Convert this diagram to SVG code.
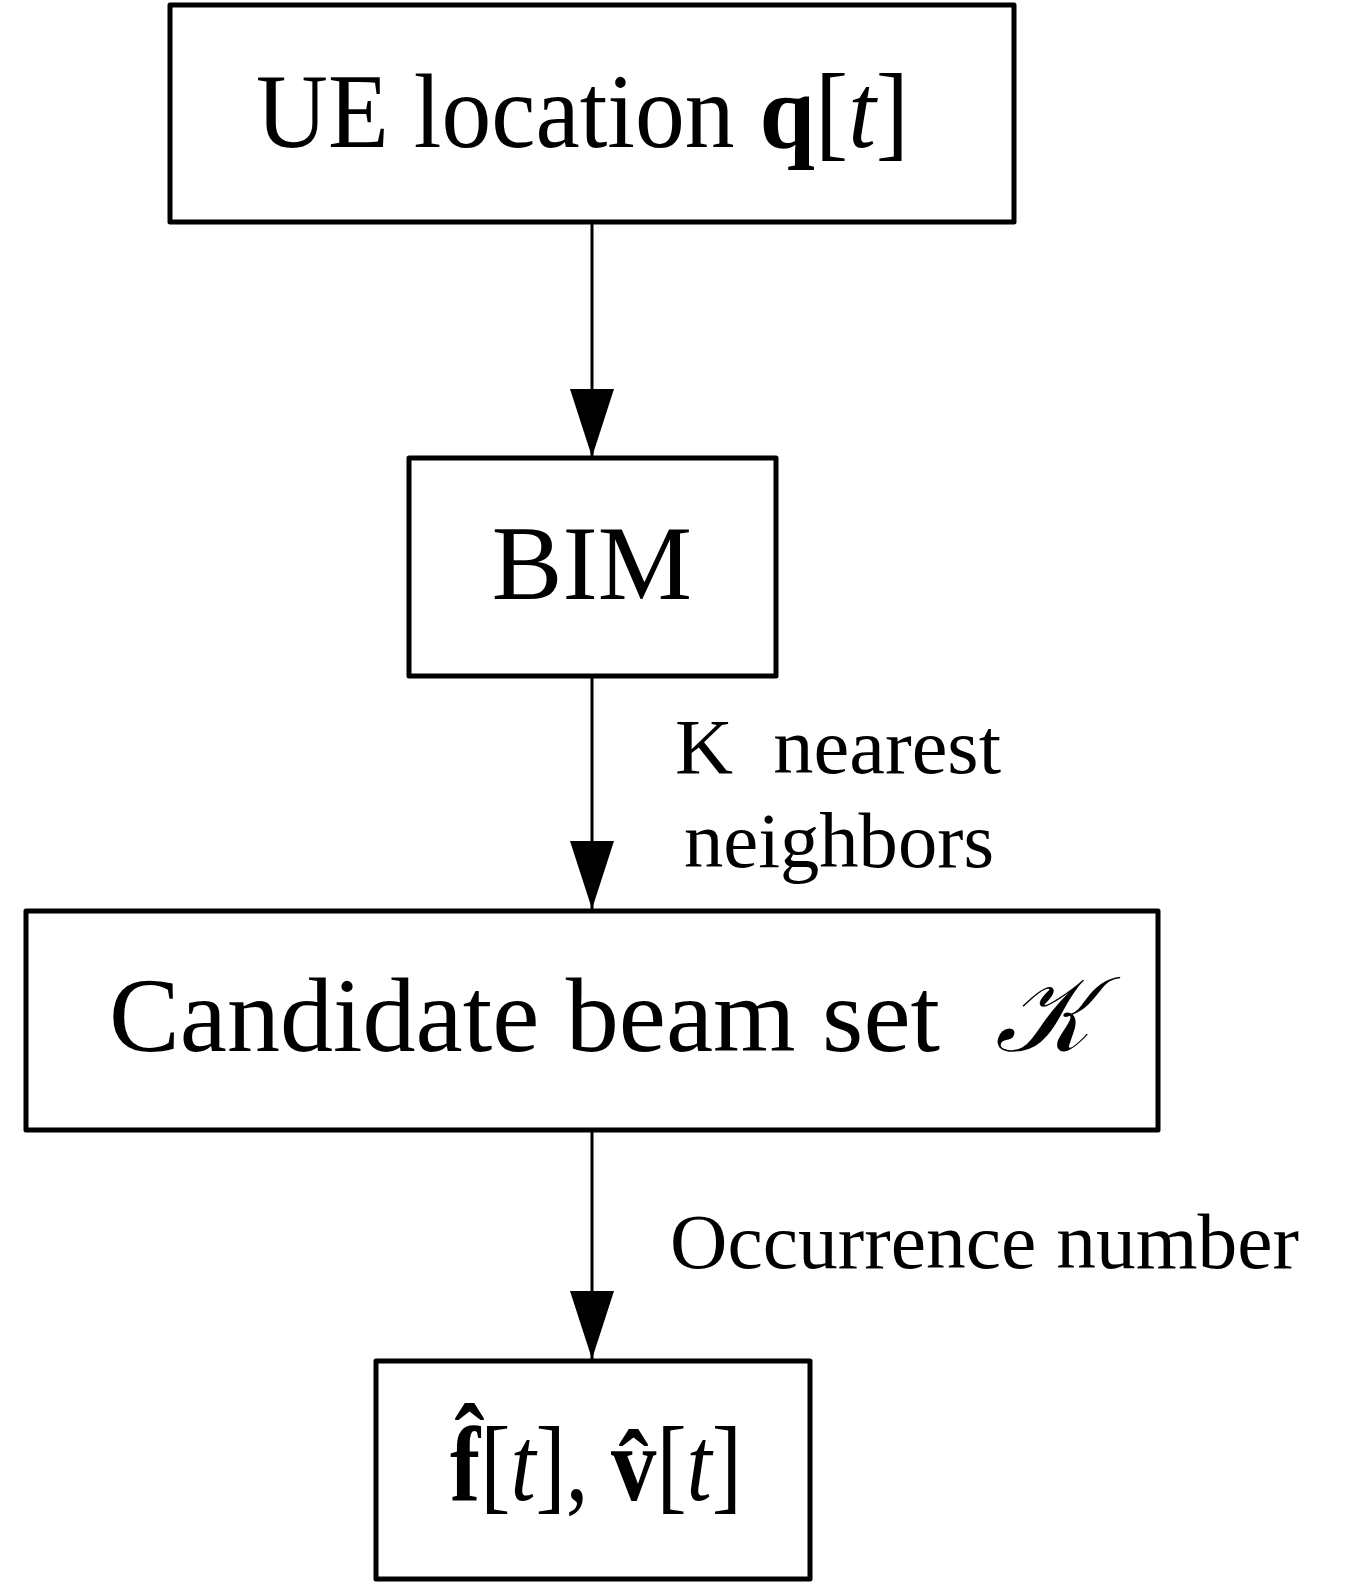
<svg xmlns="http://www.w3.org/2000/svg" width="1360" height="1584" viewBox="0 0 1360 1584">
<style>
.box{fill:#fff;stroke:#000;stroke-width:5;stroke-linejoin:round}
.conn{stroke:#000;stroke-width:3;fill:none}
.t{font-family:"Liberation Serif","Times New Roman",serif;fill:#000}
.big{font-size:106px}
.lab{font-size:79px}
</style>
<defs>
<marker id="arr" markerUnits="userSpaceOnUse" markerWidth="70" markerHeight="44" refX="68" refY="22" orient="auto" viewBox="0 0 70 44">
<path d="M0,0 L68,22 L0,44 Z" fill="#000"/>
</marker>
</defs>
<g id="connectors">
<line class="conn" x1="592" y1="222" x2="592" y2="457" marker-end="url(#arr)"/>
<line class="conn" x1="592" y1="676" x2="592" y2="909" marker-end="url(#arr)"/>
<line class="conn" x1="592" y1="1130" x2="592" y2="1359" marker-end="url(#arr)"/>
<text class="t lab" x="675" y="773" xml:space="preserve" textLength="326" lengthAdjust="spacingAndGlyphs">K  nearest</text>
<text class="t lab" x="684" y="867" textLength="310" lengthAdjust="spacingAndGlyphs">neighbors</text>
<text class="t lab" x="670" y="1268" textLength="629" lengthAdjust="spacingAndGlyphs">Occurrence number</text>
</g>
<g id="node-ue">
<rect class="box" x="170" y="5" width="844" height="217"/>
<text class="t big" x="256" y="147" textLength="653" lengthAdjust="spacingAndGlyphs">UE location <tspan font-weight="bold">q</tspan>[<tspan font-style="italic">t</tspan>]</text>
</g>
<g id="node-bim">
<rect class="box" x="409" y="458" width="367" height="218"/>
<text class="t big" x="592" y="599" text-anchor="middle">BIM</text>
</g>
<g id="node-candidate">
<rect class="box" x="26" y="911" width="1132" height="219"/>
<text class="t big" x="109" y="1051" textLength="831" lengthAdjust="spacingAndGlyphs">Candidate beam set</text>
<text class="t big" x="995" y="1051" font-style="italic" textLength="95" lengthAdjust="spacingAndGlyphs">𝒦</text>
</g>
<g id="node-output">
<rect class="box" x="376" y="1361" width="434" height="218"/>
<text class="t big" x="450" y="1500" textLength="292" lengthAdjust="spacingAndGlyphs"><tspan font-weight="bold">f̂</tspan>[<tspan font-style="italic">t</tspan>], <tspan font-weight="bold">v̂</tspan>[<tspan font-style="italic">t</tspan>]</text>
</g>
</svg>
